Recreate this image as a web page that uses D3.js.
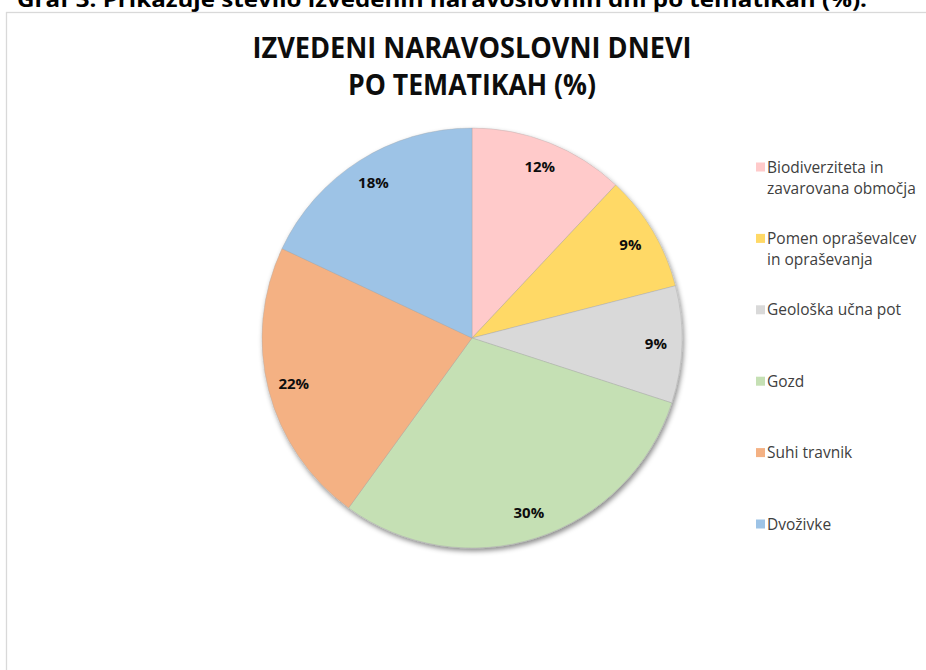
<!DOCTYPE html>
<html>
<head>
<meta charset="utf-8">
<title>Izvedeni naravoslovni dnevi</title>
<script src="https://d3js.org/d3.v7.min.js"></script>
<style>
	body { margin: 0; background: #fff; }
	svg text { font-family: "Open Sans", "Noto Sans", sans-serif; }
	.caption { font-weight: bold; font-size: 22px; fill: #000; }
	.title { font-weight: bold; font-size: 28px; fill: #0d0d0d; }
	.label { font-weight: bold; font-size: 15px; fill: #0d0d0d; text-anchor: middle; }
	.legend text { font-size: 15.5px; fill: #404040; }
</style>
</head>
<body>
<div id="chart"></div>
<script>
// data
var categories = ["Biodiverziteta in zavarovana območja", "Pomen opraševalcev in opraševanja",
	"Geološka učna pot", "Gozd", "Suhi travnik", "Dvoživke"];
var values = [12, 9, 9, 30, 22, 18];
var colors = ["#FFCACA", "#FFD966", "#D9D9D9", "#C5E0B4", "#F4B183", "#9DC3E6"];
var titleLines = ["IZVEDENI NARAVOSLOVNI DNEVI", "PO TEMATIKAH (%)"];
var captionText = "Graf 3: Prikazuje število izvedenih naravoslovnih dni po tematikah (%).";

var W = 926, H = 670;
var cx = 472, cy = 338, r = 210;

var svg = d3.select("#chart").append("svg")
	.attr("width", W).attr("height", H);

// caption above the chart box (cut off at the top, as in the source)
svg.append("text").attr("class", "caption")
	.attr("x", 17).attr("y", 7)
	.attr("textLength", 850).attr("lengthAdjust", "spacingAndGlyphs")
	.text(captionText);

// chart border
svg.append("rect")
	.attr("x", 6.5).attr("y", 12.5)
	.attr("width", 940).attr("height", 700)
	.attr("fill", "#fff").attr("stroke", "#d9d9d9").attr("stroke-width", 1.3);

// title
var titleWidths = [439, 248];
svg.selectAll("text.title").data(titleLines).enter().append("text")
	.attr("class", "title")
	.attr("x", function(d, i) { return 472 - titleWidths[i] / 2; })
	.attr("y", function(d, i) { return 58 + i * 37; })
	.attr("textLength", function(d, i) { return titleWidths[i]; })
	.attr("lengthAdjust", "spacingAndGlyphs")
	.text(function(d) { return d; });

// shadow
var defs = svg.append("defs");
var f = defs.append("filter").attr("id", "shadow")
	.attr("x", "-10%").attr("y", "-10%").attr("width", "120%").attr("height", "120%");
f.append("feDropShadow")
	.attr("dx", 1.5).attr("dy", 3).attr("stdDeviation", 2.5)
	.attr("flood-color", "#000").attr("flood-opacity", 0.45);

var pie = d3.pie().sort(null).value(function(d) { return d; });
var arcs = pie(values);
var arc = d3.arc().innerRadius(0).outerRadius(r);
var labelArc = d3.arc().innerRadius(r - 26).outerRadius(r - 26);

var g = svg.append("g").attr("transform", "translate(" + cx + "," + cy + ")");
g.append("g").attr("filter", "url(#shadow)")
	.selectAll("path").data(arcs).enter().append("path")
	.attr("d", arc)
	.attr("fill", function(d, i) { return colors[i]; })
	.attr("stroke", "#a6a6a6").attr("stroke-opacity", 0.6).attr("stroke-width", 0.6);

g.selectAll("text.label").data(arcs).enter().append("text")
	.attr("class", "label")
	.attr("transform", function(d) { return "translate(" + labelArc.centroid(d) + ")"; })
	.attr("dy", "0.36em")
	.text(function(d) { return d.data + "%"; });

// legend
var legY = d3.scalePoint().domain(d3.range(categories.length)).range([167, 524]);
var leg = svg.append("g").attr("class", "legend");
var maxW = 158;
categories.forEach(function(name, i) {
	var y = legY(i);
	leg.append("rect")
		.attr("x", 756).attr("y", y - 4.5)
		.attr("width", 9).attr("height", 9)
		.attr("fill", colors[i]);
	var t = leg.append("text").attr("x", 767).attr("y", y + 5.5);
	// word wrap
	var words = name.split(" "), line = [];
	var ts = t.append("tspan").attr("x", 767).attr("dy", 0);
	words.forEach(function(w) {
		line.push(w);
		ts.text(line.join(" "));
		if (ts.node().getComputedTextLength() > maxW && line.length > 1) {
			line.pop();
			ts.text(line.join(" "));
			line = [w];
			ts = t.append("tspan").attr("x", 767).attr("dy", 21.5).text(w);
		}
	});
});
</script>
</body>
</html>
